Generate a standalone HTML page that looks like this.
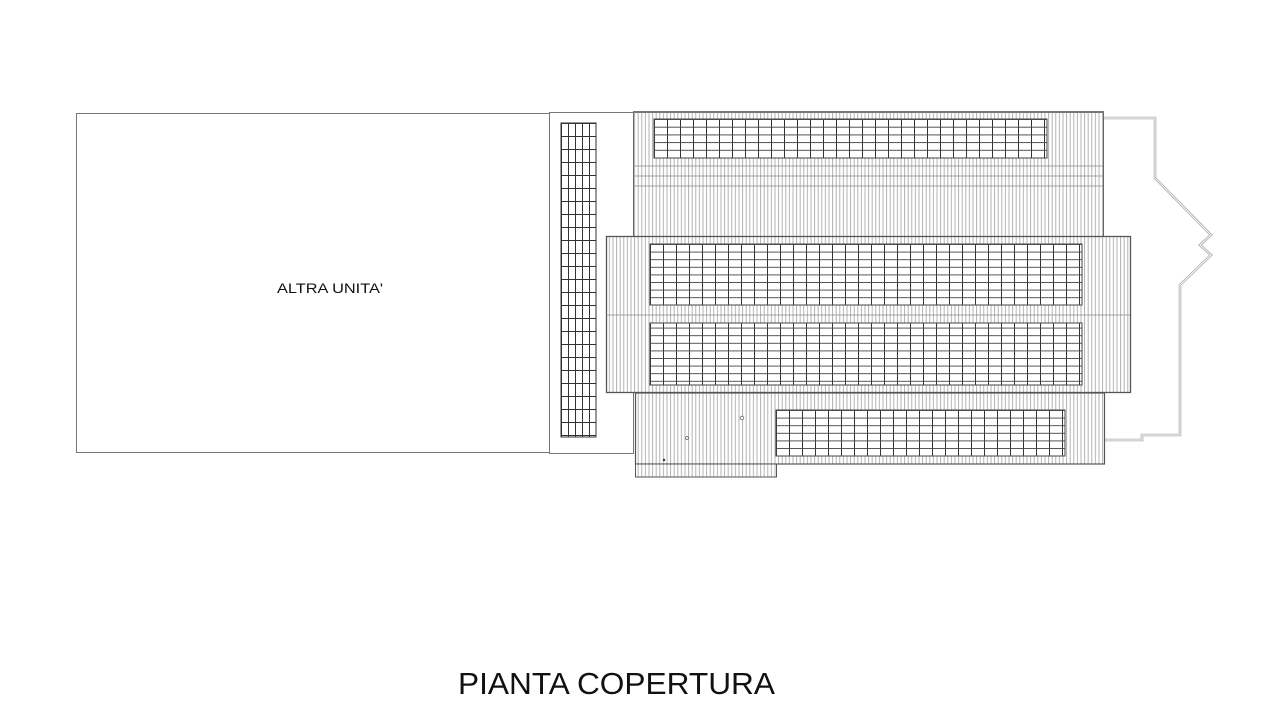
<!DOCTYPE html>
<html><head><meta charset="utf-8"><style>html,body{margin:0;padding:0;background:#fff}svg{display:block}</style></head>
<body>
<svg width="1280" height="727" viewBox="0 0 1280 727" xmlns="http://www.w3.org/2000/svg">
<defs>
<pattern id="str" width="3.6" height="10" patternUnits="userSpaceOnUse">
<line x1="1" y1="0" x2="1" y2="10" stroke="#aaa" stroke-width="0.9"/>
</pattern>
<pattern id="pan" width="13" height="7.7" patternUnits="userSpaceOnUse" x="654" y="119">
<rect width="13" height="7.7" fill="#fff"/>
<line x1="0.5" y1="0" x2="0.5" y2="7.7" stroke="#333" stroke-width="1"/>
<line x1="0" y1="0.5" x2="13" y2="0.5" stroke="#444" stroke-width="0.9"/>
</pattern>
<pattern id="pan2" width="13" height="7.6" patternUnits="userSpaceOnUse" x="650" y="244">
<rect width="13" height="7.6" fill="#fff"/>
<line x1="0.5" y1="0" x2="0.5" y2="7.6" stroke="#333" stroke-width="1"/>
<line x1="0" y1="0.5" x2="13" y2="0.5" stroke="#444" stroke-width="0.9"/>
</pattern>
<pattern id="pan3" width="13" height="7.6" patternUnits="userSpaceOnUse" x="776" y="410">
<rect width="13" height="7.6" fill="#fff"/>
<line x1="0.5" y1="0" x2="0.5" y2="7.6" stroke="#333" stroke-width="1"/>
<line x1="0" y1="0.5" x2="13" y2="0.5" stroke="#444" stroke-width="0.9"/>
</pattern>
<pattern id="pan4" width="7" height="13" patternUnits="userSpaceOnUse" x="561" y="123">
<rect width="7" height="13" fill="#fff"/>
<line x1="0.5" y1="0" x2="0.5" y2="13" stroke="#333" stroke-width="1"/>
<line x1="0" y1="0.5" x2="7" y2="0.5" stroke="#333" stroke-width="1"/>
</pattern>
</defs>

<rect x="76.5" y="113.5" width="473" height="339" fill="none" stroke="#777" stroke-width="1"/>
<text x="277" y="293" font-family="Liberation Sans, Arial, sans-serif" font-size="14" textLength="106" lengthAdjust="spacingAndGlyphs" fill="#111">ALTRA UNITA'</text>

<rect x="549.5" y="112.5" width="84" height="341" fill="none" stroke="#777" stroke-width="1"/>
<rect x="561" y="123" width="35" height="314" fill="url(#pan4)" stroke="#333" stroke-width="1"/>

<polyline points="1103,118 1155,118 1155,178 1211,235 1200,245 1211,255 1180,285 1180,435 1142,435 1142,440 1104,440" fill="none" stroke="#aaa" stroke-width="2.6"/>
<polyline points="1103,118 1155,118 1155,178 1211,235 1200,245 1211,255 1180,285 1180,435 1142,435 1142,440 1104,440" fill="none" stroke="#fff" stroke-width="0.9"/>

<rect x="633.5" y="112" width="470" height="125" fill="#fff"/>
<rect x="633.5" y="112" width="470" height="125" fill="url(#str)" stroke="#666" stroke-width="1"/>
<line x1="633" y1="112" x2="1104" y2="112" stroke="#777" stroke-width="2"/>
<line x1="633" y1="166" x2="1103" y2="166" stroke="#888" stroke-width="0.8"/>
<line x1="633" y1="176" x2="1103" y2="176" stroke="#888" stroke-width="0.8"/>
<line x1="633" y1="186" x2="1103" y2="186" stroke="#888" stroke-width="0.8"/>
<rect x="654" y="119" width="393" height="39" fill="url(#pan)" stroke="#444" stroke-width="1"/>

<rect x="635.5" y="393" width="469" height="71" fill="#fff"/>
<rect x="635.5" y="393" width="469" height="71" fill="url(#str)" stroke="#555" stroke-width="1.2"/>
<rect x="776" y="410" width="289" height="46" fill="url(#pan3)" stroke="#444" stroke-width="1"/>
<rect x="635.5" y="464" width="141" height="13" fill="#fff"/>
<rect x="635.5" y="464" width="141" height="13" fill="url(#str)" stroke="#555" stroke-width="1"/>
<circle cx="742" cy="418" r="1.8" fill="#fff" stroke="#666" stroke-width="0.8"/>
<circle cx="687" cy="438" r="1.5" fill="#fff" stroke="#666" stroke-width="0.8"/>
<circle cx="664" cy="460" r="1.2" fill="#333"/>

<rect x="606.5" y="236.5" width="524" height="156" fill="#fff"/>
<rect x="606.5" y="236.5" width="524" height="156" fill="url(#str)" stroke="#555" stroke-width="1.3"/>
<line x1="606" y1="315" x2="1130" y2="315" stroke="#888" stroke-width="0.8"/>
<rect x="650" y="244" width="432" height="61" fill="url(#pan2)" stroke="#444" stroke-width="1"/>
<rect x="650" y="323" width="432" height="62" fill="url(#pan2)" stroke="#444" stroke-width="1"/>

<text x="458" y="694" font-family="Liberation Sans, Arial, sans-serif" font-size="31" textLength="317" lengthAdjust="spacingAndGlyphs" fill="#111">PIANTA COPERTURA</text>
</svg>
</body></html>
